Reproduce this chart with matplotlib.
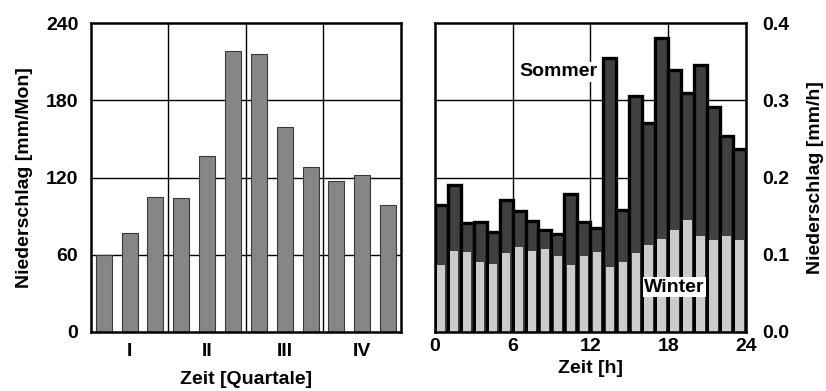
import numpy as np
import matplotlib.pyplot as plt

plt.rcParams['font.family'] = ['Liberation Sans', 'DejaVu Sans']
plt.rcParams['font.weight'] = 'bold'

# Monatsniederschlag
monate = np.arange(12)
monat_werte = [60, 77, 105, 104, 137, 218, 216, 159, 128, 117, 122, 99]
quartal_labels = ['I', 'II', 'III', 'IV']

# Tagesgang (Stundenwerte)
stunden = np.arange(24)
sommer = [0.164, 0.190, 0.141, 0.143, 0.129, 0.171, 0.157, 0.144, 0.132, 0.127,
          0.179, 0.142, 0.134, 0.355, 0.158, 0.306, 0.270, 0.381, 0.339, 0.309,
          0.346, 0.291, 0.254, 0.237]
winter = [0.087, 0.105, 0.104, 0.091, 0.088, 0.102, 0.110, 0.105, 0.108, 0.098,
          0.087, 0.098, 0.104, 0.084, 0.090, 0.102, 0.112, 0.120, 0.132, 0.145,
          0.124, 0.119, 0.124, 0.119]

fig = plt.figure(figsize=(8.26, 3.91), dpi=100)
ax1 = fig.add_axes([0.110, 0.151, 0.3755, 0.790])
ax2 = fig.add_axes([0.5263, 0.151, 0.3769, 0.790])

fs = 14

# linkes Diagramm
ax1.bar(monate + 0.5, monat_werte, width=0.62, color='#868686',
        edgecolor='#3a3a3a', linewidth=0.8, zorder=3)
ax1.set_xlim(0, 12)
ax1.set_ylim(0, 240)
ax1.set_yticks([0, 60, 120, 180, 240])
ax1.set_xticks([1.5, 4.5, 7.5, 10.5])
ax1.set_xticklabels(quartal_labels)
for v in [3, 6, 9]:
    ax1.axvline(v, color='black', linewidth=1.0, zorder=1)
for v in [60, 120, 180]:
    ax1.axhline(v, color='black', linewidth=1.0, zorder=1)
ax1.tick_params(axis='x', length=0, pad=8, labelsize=fs)
ax1.tick_params(axis='y', length=0, pad=9, labelsize=fs)
ax1.set_ylabel('Niederschlag [mm/Mon]', fontsize=fs, fontweight='bold', labelpad=9)
ax1.set_xlabel('Zeit [Quartale]', fontsize=fs, fontweight='bold', labelpad=8)

# rechtes Diagramm
ax2.bar(stunden + 0.5, sommer, width=1.0, color='#404040',
        edgecolor='black', linewidth=2.4, zorder=3)
ax2.bar(stunden + 0.5, winter, width=0.66, color='#cbcbcb',
        linewidth=0, zorder=4)
ax2.set_xlim(0, 24)
ax2.set_ylim(0, 0.4)
ax2.set_xticks([0, 6, 12, 18, 24])
ax2.set_yticks([0.0, 0.1, 0.2, 0.3, 0.4])
ax2.set_yticklabels(['0.0', '0.1', '0.2', '0.3', '0.4'])
for v in [6, 12, 18]:
    ax2.axvline(v, color='black', linewidth=1.0, zorder=1)
for v in [0.1, 0.2, 0.3]:
    ax2.axhline(v, color='black', linewidth=1.0, zorder=1)
ax2.yaxis.tick_right()
ax2.yaxis.set_label_position('right')
ax2.tick_params(axis='x', length=0, pad=4, labelsize=fs)
ax2.tick_params(axis='y', length=0, pad=12, labelsize=fs)
ax2.set_ylabel('Niederschlag [mm/h]', fontsize=fs, fontweight='bold', labelpad=12)
ax2.set_xlabel('Zeit [h]', fontsize=fs, fontweight='bold', labelpad=4)

ax2.text(9.5, 0.337, 'Sommer', fontsize=fs, fontweight='bold', ha='center',
         va='center', zorder=6,
         bbox=dict(facecolor='white', edgecolor='none', pad=1.0))
ax2.text(18.5, 0.058, 'Winter', fontsize=fs, fontweight='bold', ha='center',
         va='center', zorder=6,
         bbox=dict(facecolor='white', edgecolor='none', pad=1.0))

for ax in (ax1, ax2):
    for s in ax.spines.values():
        s.set_linewidth(1.8)
        s.set_zorder(5)

plt.savefig('out.png', dpi=100)
